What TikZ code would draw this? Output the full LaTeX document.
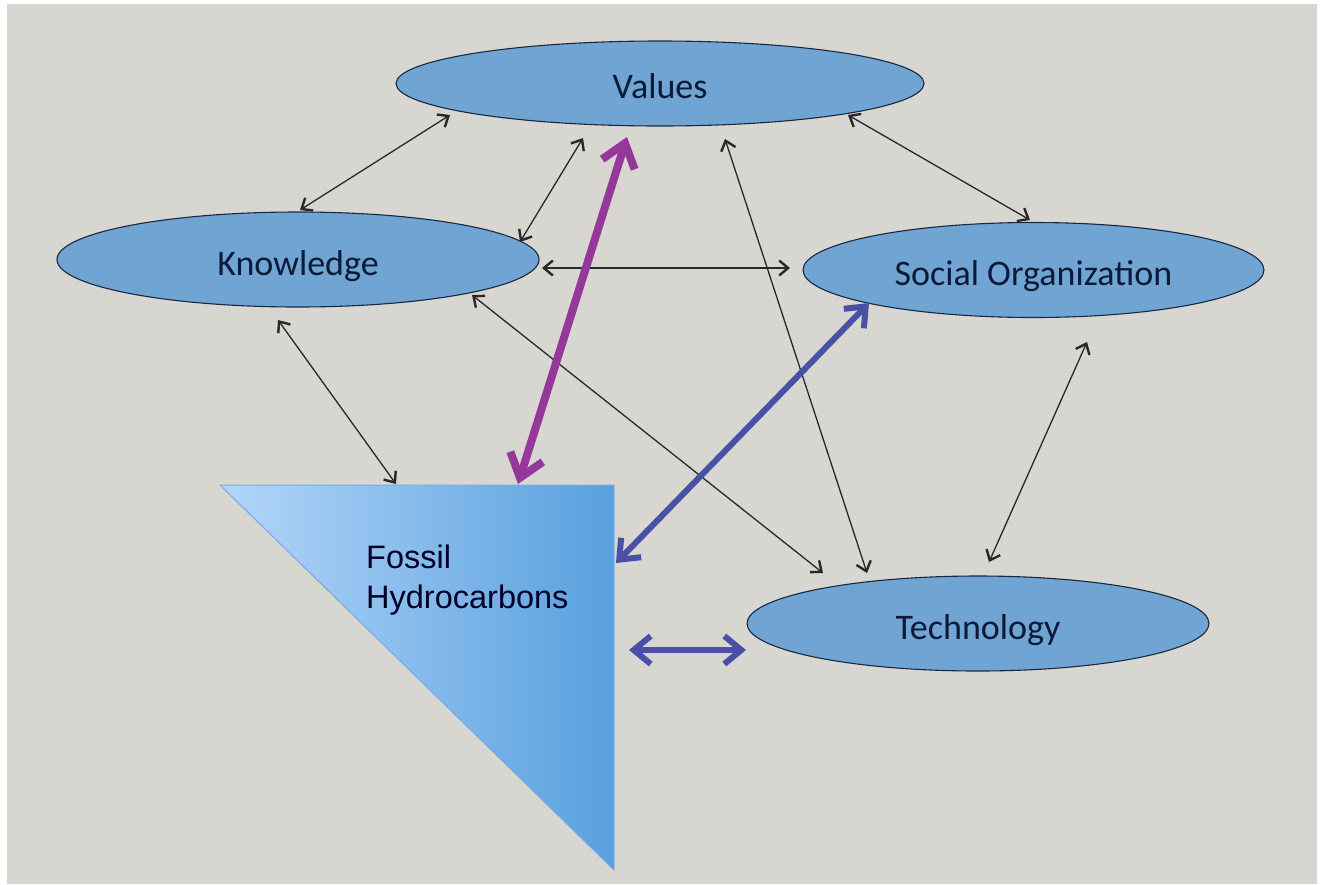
\documentclass[tikz,border=0pt]{standalone}
\usepackage{fontspec}
\newfontfamily\calibri{Carlito}
\newfontfamily\arialf{Liberation Sans}
\usetikzlibrary{shapes.geometric,arrows.meta,calc}
\definecolor{bggray}{RGB}{216,214,209}
\definecolor{ellfill}{RGB}{111,164,211}
\definecolor{elldraw}{RGB}{25,40,65}
\definecolor{txtnavy}{RGB}{12,26,56}
\definecolor{arrgray}{RGB}{40,40,40}
\definecolor{purp}{RGB}{150,55,155}
\definecolor{bluearr}{RGB}{74,80,166}
\definecolor{trileft}{RGB}{180,214,249}
\definecolor{triright}{RGB}{88,160,222}
\definecolor{triedge}{RGB}{120,172,224}
\tikzset{
  ell/.style={ellipse, draw=elldraw, line width=1.1pt, fill=ellfill, inner sep=0pt, outer sep=0pt},
  lbl/.style={font=\calibri\fontsize{36}{43}\selectfont, text=txtnavy, inner sep=0pt, anchor=base},
  thinarr/.style={draw=arrgray, line width=1.3pt, {Straight Barb[length=9pt,width=15pt,line width=2.4pt]}-{Straight Barb[length=9pt,width=15pt,line width=2.4pt]}},
  purparr/.style={draw=purp, line width=8pt, {Straight Barb[length=22pt,width=34pt,line width=8pt]}-{Straight Barb[length=22pt,width=34pt,line width=8pt]}},
  bluearrow/.style={draw=bluearr, line width=6pt, {Straight Barb[length=17pt,width=28pt,line width=6pt]}-{Straight Barb[length=17pt,width=28pt,line width=6pt]}},
}
\begin{document}
\begin{tikzpicture}[x=1pt,y=-1pt]
\useasboundingbox (0,0) rectangle (1320,884);
\fill[white] (0,0) rectangle (1320,884);
\fill[bggray] (7,4) rectangle (1317,884);

% ellipses
\node[ell, minimum width=528pt, minimum height=85pt] (V) at (660,83.5) {};
\node[ell, minimum width=482pt, minimum height=95pt] (K) at (298,259.5) {};
\node[ell, minimum width=461pt, minimum height=95pt] (S) at (1033.5,270) {};
\node[ell, minimum width=462pt, minimum height=95pt] (T) at (978,623.5) {};

\node[lbl] (Vt) at ($(V)+(0,14.5)$) {Values};
\node[lbl] (Kt) at ($(K)+(0,15.5)$) {Knowledge};
\node[lbl] (St) at ($(S)+(0,15)$) {Social Organization};
\node[lbl] (Tt) at ($(T)+(0,15.5)$) {Technology};

% triangle
\coordinate (Ftl) at (220,485);
\coordinate (Ftr) at (614,485);
\coordinate (Fbot) at (614,870);
\shade[left color=trileft, right color=triright, draw=triedge, line width=1pt] (Ftl) -- (Ftr) -- (Fbot) -- cycle;
\node[font=\arialf\fontsize{32.5}{40}\selectfont, text=black!85!blue, align=left, inner sep=0pt, anchor=base west] (Ft) at (366,608) {Fossil\\Hydrocarbons};

% thin arrows
\draw[thinarr] ($(V)+(-210,31.5)$) -- ($(K)+(2,-49.5)$);
\draw[thinarr] ($(V)+(-77,54.5)$) -- ($(K)+(222,-17.5)$);
\draw[thinarr] ($(V)+(188,31.5)$) -- ($(S)+(-3.5,-50)$);
\draw[thinarr] ($(K)+(244,8.5)$) -- ($(S)+(-243.5,-2)$);
\draw[thinarr] ($(K)+(-20,60.5)$) -- ($(Ftl)+(176,-1)$);
\draw[thinarr] ($(K)+(174,35.5)$) -- ($(T)+(-155,-50.5)$);
\draw[thinarr] ($(V)+(65,55.5)$) -- ($(T)+(-111,-50.5)$);
\draw[thinarr] ($(S)+(53.5,72)$) -- ($(T)+(11,-61.5)$);

% thick arrows
\draw[purparr] ($(V)+(-33,53.5)$) -- ($(Ftl)+(298,-1)$);
\draw[bluearrow] ($(S)+(-164.5,33)$) -- ($(Ftr)+(2,78)$);
\draw[bluearrow] ($(Ftr)+(15,165)$) -- ($(T)+(-232,26.5)$);
\end{tikzpicture}
\end{document}
